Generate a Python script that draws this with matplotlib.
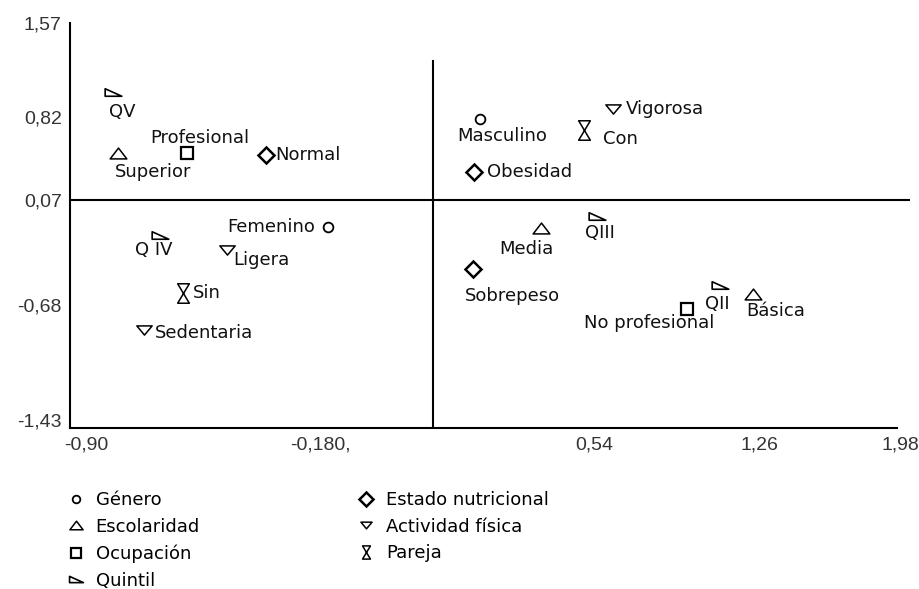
import numpy as np
import matplotlib.pyplot as plt
from matplotlib.path import Path
from matplotlib.lines import Line2D

# ── Data (coordinates) ──────────────────────────────────────────
genero_cat = ['Masculino', 'Femenino']
genero_x = [0.240, -0.159]
genero_y = [0.802, -0.123]

escolaridad_cat = ['Superior', 'Media', 'Básica']
escolaridad_x = [-0.802, 0.401, 1.234]
escolaridad_y = [0.495, -0.130, -0.601]

ocupacion_cat = ['Profesional', 'No profesional']
ocupacion_x = [-0.589, 0.946]
ocupacion_y = [0.495, -0.706]

quintil_cat = ['QV', 'Q IV', 'QIII', 'QII']
quintil_x = [-0.817, -0.672, 0.553, 1.090]
quintil_y = [1.019, -0.180, -0.044, -0.537]

nutricional_cat = ['Normal', 'Obesidad', 'Sobrepeso']
nutricional_x = [-0.346, 0.225, 0.222]
nutricional_y = [0.477, 0.323, -0.423]

actividad_cat = ['Vigorosa', 'Ligera', 'Sedentaria']
actividad_x = [0.623, -0.466, -0.722]
actividad_y = [0.884, -0.287, -0.843]

pareja_cat = ['Con', 'Sin']
pareja_x = [0.514, -0.602]
pareja_y = [0.703, -0.594]

x_ticks = [-0.90, -0.18, 0.54, 1.26, 1.98]
x_ticklabels = ['-0,90', '-0,180,', '0,54', '1,26', '1,98']
y_ticks = [-1.43, -0.68, 0.07, 0.82, 1.57]
y_ticklabels = ['-1,43', '-0,68', '0,07', '0,82', '1,57']

# the original axes are unevenly spaced: pixel position of each tick
x_tick_px = [86, 320, 594, 759, 900]
y_tick_px = [-420, -305, -200, -117, -23]


def uneven(vals, pix):
    vals = np.asarray(vals, float)
    pix = np.asarray(pix, float)
    s0 = (pix[1] - pix[0]) / (vals[1] - vals[0])
    s1 = (pix[-1] - pix[-2]) / (vals[-1] - vals[-2])
    v = np.r_[vals[0] - 100, vals, vals[-1] + 100]
    p = np.r_[pix[0] - 100 * s0, pix, pix[-1] + 100 * s1]
    return (lambda a: np.interp(a, v, p)), (lambda a: np.interp(a, p, v))


fx, ix = uneven(x_ticks, x_tick_px)
fy, iy = uneven(y_ticks, y_tick_px)

# ── Marker shapes ───────────────────────────────────────────────
C = [Path.MOVETO, Path.LINETO, Path.LINETO, Path.CLOSEPOLY]
wedge = Path([(-1, 0.45), (1, -0.45), (-1, -0.45), (-1, 0.45)], C)
tri_up = Path([(-1, -0.65), (1, -0.65), (0, 0.65), (-1, -0.65)], C)
tri_down = Path([(-1, 0.6), (1, 0.6), (0, -0.6), (-1, 0.6)], C)
hourglass = Path([(-0.6, 1), (0.6, 1), (-0.6, -1), (0.6, -1), (-0.6, 1)],
                 [Path.MOVETO, Path.LINETO, Path.LINETO, Path.LINETO, Path.CLOSEPOLY])

# group: (categories, x, y, marker, size, edge width, legend size, label offsets)
groups = [
    ('Género', genero_cat, genero_x, genero_y, 'o', 7, 1.3, 5.5,
     [((22, -17), 'center'), ((-13, 0), 'right')]),
    ('Escolaridad', escolaridad_cat, escolaridad_x, escolaridad_y, tri_up, 12, 1.1, 9.5,
     [((35, -19), 'center'), ((-15, -21), 'center'), ((23, -17), 'center')]),
    ('Ocupación', ocupacion_cat, ocupacion_x, ocupacion_y, 's', 8, 1.6, 7,
     [((13, 15), 'center'), ((-38, -14), 'center')]),
    ('Quintil', quintil_cat, quintil_x, quintil_y, wedge, 12, 1.2, 10,
     [((9, -20), 'center'), ((-6, -15), 'center'), ((3, -17), 'center'), ((-3, -19), 'center')]),
    ('Estado nutricional', nutricional_cat, nutricional_x, nutricional_y, 'D', 8.5, 1.8, 7,
     [((9, 0), 'left'), ((13, 0), 'left'), ((39, -27), 'center')]),
    ('Actividad física', actividad_cat, actividad_x, actividad_y, tri_down, 11, 1.1, 8,
     [((13, 0), 'left'), ((6, -10), 'left'), ((11, -3), 'left')]),
    ('Pareja', pareja_cat, pareja_x, pareja_y, hourglass, 14, 1.1, 9.5,
     [((19, -9), 'left'), ((10, 0), 'left')]),
]

fig = plt.figure(figsize=(9.2, 5.89), dpi=100)
ax = fig.add_axes([70 / 920, 161 / 589, 840 / 920, 405 / 589])
ax.set_xscale('function', functions=(fx, ix))
ax.set_yscale('function', functions=(fy, iy))
ax.set_xlim(ix(70), ix(910))
ax.set_ylim(iy(-428), iy(-23))

for spine in ['top', 'right', 'bottom']:
    ax.spines[spine].set_visible(False)
ax.spines['left'].set_linewidth(1.5)
ax.plot([0, 827 / 840], [0, 0], transform=ax.transAxes, color='black', lw=1.5, clip_on=False)

# reference lines through the centroid
ax.axhline(0.07, color='black', lw=1.5)
ax.plot([ix(433), ix(433)], [iy(-61), iy(-428)], color='black', lw=1.5)

handles = []
for name, cats, xs, ys, mk, ms, mew, lms, offs in groups:
    ax.plot(xs, ys, ls='none', marker=mk, ms=ms, mfc='white', mec='black', mew=mew)
    for c, x, y, (off, ha) in zip(cats, xs, ys, offs):
        ax.annotate(c, (x, y), xytext=off, textcoords='offset pixels',
                    ha=ha, va='center', fontsize=13, color='#111')
    handles.append(Line2D([], [], ls='none', marker=mk, ms=lms, mfc='white',
                          mec='black', mew=mew, label=name))

ax.set_xticks(x_ticks, x_ticklabels)
ax.set_yticks(y_ticks, y_ticklabels)
ax.minorticks_off()
ax.tick_params(length=0, pad=6, labelsize=14, labelcolor='#333')
for lab in ax.get_xticklabels() + ax.get_yticklabels():
    lab.set_family('Liberation Sans')

fig.legend(handles=handles, ncol=2, loc='upper left', bbox_to_anchor=(65 / 920, 1 - 491 / 589),
           frameon=False, fontsize=13, handlelength=1.2, handletextpad=0.5,
           columnspacing=8.6, labelspacing=0.48, borderpad=0, borderaxespad=0)

fig.savefig('out.png', dpi=100)
